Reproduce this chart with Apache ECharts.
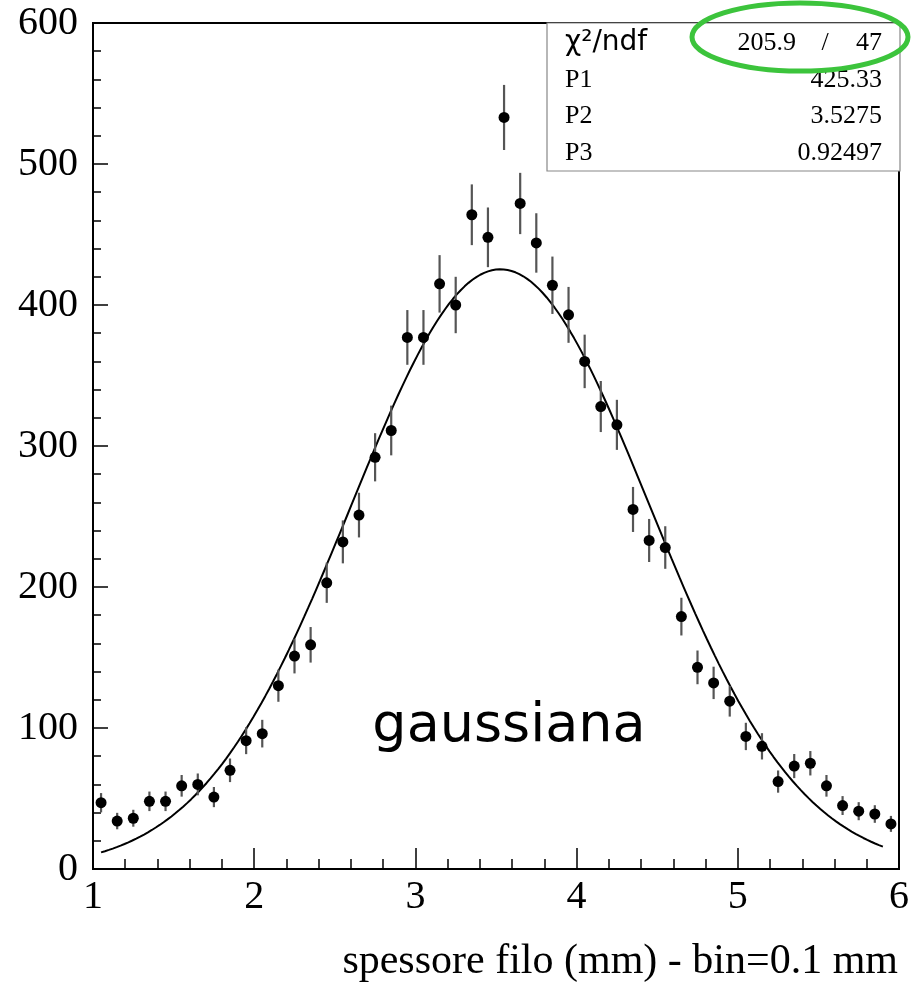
<!DOCTYPE html>
<html>
<head>
<meta charset="utf-8">
<script src="https://cdn.jsdelivr.net/npm/echarts@6/dist/echarts.min.js"></script>
<style>
html,body{margin:0;padding:0;background:#fff;}
#chart{width:912px;height:988px;}
</style>
</head>
<body>
<div id="chart"></div>
<script>
// Bin centres (mm), bin = 0.1 mm
const binCenters = [1.05,1.15,1.25,1.35,1.45,1.55,1.65,1.75,1.85,1.95,
  2.05,2.15,2.25,2.35,2.45,2.55,2.65,2.75,2.85,2.95,
  3.05,3.15,3.25,3.35,3.45,3.55,3.65,3.75,3.85,3.95,
  4.05,4.15,4.25,4.35,4.45,4.55,4.65,4.75,4.85,4.95,
  5.05,5.15,5.25,5.35,5.45,5.55,5.65,5.75,5.85,5.95];
// Counts per bin
const counts = [47,34,36,48,48,59,60,51,70,91,
  96,130,151,159,203,232,251,292,311,377,
  377,415,400,464,448,533,472,444,414,393,
  360,328,315,255,233,228,179,143,132,119,
  94,87,62,73,75,59,45,41,39,32];
// Fit parameters shown in the stats box
const fitP1 = 425.33, fitP2 = 3.5275, fitP3 = 0.92497;
const chi2 = '205.9', ndf = '47';
const fitRange = [1.05, 5.9];
const xTicks = [1,2,3,4,5,6];
const yTicks = [0,100,200,300,400,500,600];
const xTitle = 'spessore filo (mm) - bin=0.1 mm';
const plotLabel = 'gaussiana';

const pointData = binCenters.map((x,i)=>[x, counts[i]]);
const errData = binCenters.map((x,i)=>[x, counts[i], Math.sqrt(counts[i])]);
const fitData = [];
for (let k = 0; k <= 200; k++) {
  const x = fitRange[0] + (fitRange[1]-fitRange[0]) * k / 200;
  fitData.push([x, fitP1 * Math.exp(-0.5 * Math.pow((x - fitP2) / fitP3, 2))]);
}

const serif = '"Liberation Serif", "Times New Roman", serif';
const chart = echarts.init(document.getElementById('chart'), null, {renderer:'canvas'});
chart.setOption({
  animation: false,
  backgroundColor: '#fff',
  grid: {left: 93, top: 23, right: 12, bottom: 119, show: true, borderColor: '#000', borderWidth: 2, backgroundColor: 'transparent'},
  xAxis: {
    type: 'value', min: xTicks[0], max: xTicks[xTicks.length-1], interval: 1,
    axisLine: {show: true, lineStyle: {color: '#000', width: 2}},
    axisTick: {show: true, inside: true, length: 21, lineStyle: {color: '#000', width: 1.5}},
    minorTick: {show: true, splitNumber: 5, length: 10, lineStyle: {color: '#000', width: 1.5}},
    splitLine: {show: false},
    axisLabel: {fontFamily: serif, fontSize: 40, color: '#000', margin: 8}
  },
  yAxis: {
    type: 'value', min: yTicks[0], max: yTicks[yTicks.length-1], interval: 100,
    axisLine: {show: true, lineStyle: {color: '#000', width: 2}},
    axisTick: {show: true, inside: true, length: 15, lineStyle: {color: '#000', width: 1.5}},
    minorTick: {show: true, splitNumber: 5, length: 8, lineStyle: {color: '#000', width: 1.5}},
    splitLine: {show: false},
    axisLabel: {fontFamily: serif, fontSize: 40, color: '#000', margin: 15}
  },
  series: [
    {
      type: 'line', data: fitData, showSymbol: false, smooth: false,
      lineStyle: {color: '#000', width: 2}, z: 2
    },
    {
      type: 'custom', data: errData, z: 3,
      renderItem: function(params, api){
        const x = api.value(0), y = api.value(1), e = api.value(2);
        const p1 = api.coord([x, y - e]);
        const p2 = api.coord([x, y + e]);
        return {type: 'line', shape: {x1: p1[0], y1: p1[1], x2: p2[0], y2: p2[1]},
          style: {stroke: '#555', lineWidth: 2.2}};
      }
    },
    {
      type: 'scatter', data: pointData, symbol: 'circle', symbolSize: 11,
      itemStyle: {color: '#000', opacity: 1}, z: 4
    }
  ],
  graphic: [
    {type: 'rect', shape: {x: 547, y: 23, width: 353, height: 148}, style: {fill: '#fff', stroke: '#888', lineWidth: 1.2}, z: 10},
    {type: 'text', x: 565, y: 43, z: 11, style: {text: 'χ²/ndf', font: '28px "DejaVu Sans", sans-serif', fill: '#000', verticalAlign: 'middle', align: 'left'}},
    {type: 'text', x: 796, y: 43, z: 11, style: {text: chi2, font: '26px ' + serif, fill: '#000', verticalAlign: 'middle', align: 'right'}},
    {type: 'text', x: 825, y: 43, z: 11, style: {text: '/', font: '26px ' + serif, fill: '#000', verticalAlign: 'middle', align: 'center'}},
    {type: 'text', x: 882, y: 43, z: 11, style: {text: ndf, font: '26px ' + serif, fill: '#000', verticalAlign: 'middle', align: 'right'}},
    {type: 'text', x: 565, y: 80, z: 11, style: {text: 'P1', font: '26px ' + serif, fill: '#000', verticalAlign: 'middle', align: 'left'}},
    {type: 'text', x: 882, y: 80, z: 11, style: {text: String(fitP1), font: '26px ' + serif, fill: '#000', verticalAlign: 'middle', align: 'right'}},
    {type: 'text', x: 565, y: 116, z: 11, style: {text: 'P2', font: '26px ' + serif, fill: '#000', verticalAlign: 'middle', align: 'left'}},
    {type: 'text', x: 882, y: 116, z: 11, style: {text: String(fitP2), font: '26px ' + serif, fill: '#000', verticalAlign: 'middle', align: 'right'}},
    {type: 'text', x: 565, y: 153, z: 11, style: {text: 'P3', font: '26px ' + serif, fill: '#000', verticalAlign: 'middle', align: 'left'}},
    {type: 'text', x: 882, y: 153, z: 11, style: {text: String(fitP3), font: '26px ' + serif, fill: '#000', verticalAlign: 'middle', align: 'right'}},
    {type: 'ellipse', shape: {cx: 800, cy: 37, rx: 108, ry: 34}, style: {fill: 'none', stroke: '#3cc43c', lineWidth: 5}, z: 12},
    {type: 'text', x: 509, y: 727, z: 11, style: {text: plotLabel, font: '54px "DejaVu Sans", sans-serif', fill: '#000', verticalAlign: 'middle', align: 'center'}},
    {type: 'text', x: 898, y: 962, z: 11, style: {text: xTitle, font: '42px ' + serif, fill: '#000', verticalAlign: 'middle', align: 'right'}}
  ]
});
</script>
</body>
</html>
